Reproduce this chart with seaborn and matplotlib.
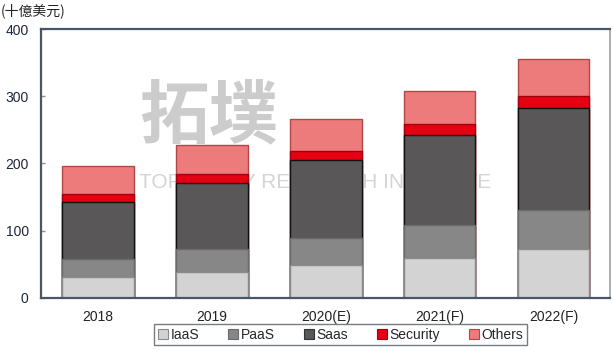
import matplotlib
matplotlib.use("Agg")
import matplotlib.pyplot as plt
import seaborn as sns
import numpy as np
import pandas as pd
from matplotlib.patches import Patch

years = ["2018", "2019", "2020(E)", "2021(F)", "2022(F)"]
series = ["IaaS", "PaaS", "Saas", "Security", "Others"]
iaas = [31, 39, 49, 60, 72]
paas = [27, 33, 40, 49, 59]
saas = [85, 99, 116, 133, 151]
security = [11, 14, 14, 16, 19]
others = [42, 43, 47, 50, 54]
yticks = [0, 100, 200, 300, 400]
unit_label = "(十億美元)"

colors = ["#d3d3d3", "#878787", "#595757", "#e60012", "#ee7b7b"]
edges = ["#8a8a8a", "#6a6a6a", "#111111", "#a00010", "#b04848"]

sns.set_theme(style="white")
plt.rcParams["font.family"] = ["Liberation Sans", "Noto Sans CJK TC", "DejaVu Sans"]

values = [iaas, paas, saas, security, others]
cum = np.cumsum(np.array(values), axis=0)

fig = plt.figure(figsize=(6.14, 3.5), dpi=100)
ax = fig.add_axes([0.067, 0.149, 0.927, 0.768])

# watermark
ax.text(0.172, 0.673, "拓墣", transform=ax.transAxes, fontsize=50, color="#cccccc",
        family=["Noto Sans CJK TC", "DejaVu Sans"], fontweight="bold", zorder=0, va="center")
ax.text(0.172, 0.43, "TOPOLOGY RESEARCH INSTITUTE", transform=ax.transAxes, fontsize=15,
        color="#d4d4d4", zorder=0, va="center")

for i in range(len(series) - 1, -1, -1):
    df = pd.DataFrame({"year": years, "val": cum[i]})
    sns.barplot(data=df, x="year", y="val", color=colors[i], width=0.63,
                edgecolor=edges[i], linewidth=1.0, saturation=1, ax=ax, zorder=2)

ax.set_xlim(-0.5, 4.5)
ax.set_ylim(0, 400)
ax.set_yticks(yticks)
ax.set_xlabel("")
ax.set_ylabel("")
ax.tick_params(axis="y", direction="in", length=3, width=1, color="#8a8f99",
               labelsize=10, labelcolor="#1e2638", pad=9, left=True)
ax.tick_params(axis="x", length=0, labelsize=10, labelcolor="#222222", pad=9)
for s in ["left", "bottom", "top"]:
    ax.spines[s].set_color("#4a5566")
    ax.spines[s].set_linewidth(1.6)
ax.spines["right"].set_color("#9aa0a8")
ax.spines["right"].set_linewidth(1.2)

fig.text(0.002, 0.968, unit_label, fontsize=10, color="#222222", va="center",
         family=["Noto Sans CJK TC", "DejaVu Sans"])

handles = [Patch(facecolor=colors[i], edgecolor="#333333" if i == 2 else edges[i], linewidth=0.8, label=series[i])
           for i in range(len(series))]
leg = fig.legend(handles=handles, loc="center", bbox_to_anchor=(0.555, 0.043), ncol=5,
                 fontsize=10, frameon=True, fancybox=False, handlelength=0.7, handleheight=0.7,
                 handletextpad=0.2, columnspacing=2.1, borderpad=0.25, borderaxespad=0)
leg.get_frame().set_edgecolor("#555b66")
leg.get_frame().set_linewidth(1.0)

fig.savefig("out.png", dpi=100)
